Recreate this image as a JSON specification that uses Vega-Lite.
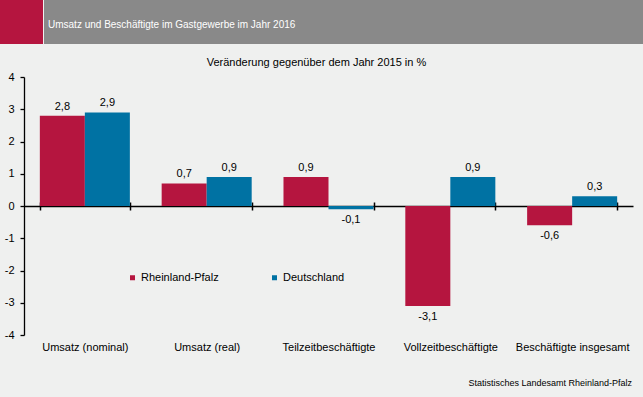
{
  "$schema": "https://vega.github.io/schema/vega-lite/v6.json",
  "padding": {"left": 0, "top": 0, "right": 0, "bottom": 9},
  "background": "#eff0ef",
  "config": {
    "font": "Liberation Sans",
    "view": {"stroke": null},
    "locale": {"number": {"decimal": ",", "thousands": ".", "grouping": [3], "currency": ["", " €"], "minus": "-"}}
  },
  "title": {"text": "Statistisches Landesamt Rheinland-Pfalz", "orient": "bottom", "anchor": "end", "fontSize": 9, "fontWeight": "normal", "color": "black", "offset": 27, "dx": -11},
  "spacing": 13,
  "vconcat": [
    {
      "hconcat": [
        {
          "width": 43, "height": 44,
          "view": {"fill": "#b5153f", "stroke": null},
          "data": {"values": [{"a": 1}]},
          "mark": {"type": "text"},
          "encoding": {"text": {"value": ""}}
        },
        {
          "width": 599, "height": 44,
          "view": {"fill": "#898989", "stroke": null},
          "title": {"text": "Umsatz und Beschäftigte im Gastgewerbe im Jahr 2016", "anchor": "start", "frame": "group", "orient": "top", "baseline": "alphabetic", "offset": -27, "dy": 11, "dx": 4, "font": "Liberation Sans", "fontSize": 10, "fontWeight": "normal", "color": "white"},
          "data": {"values": [{"a": 1}]},
          "mark": {"type": "text"},
          "encoding": {"text": {"value": ""}}
        }
      ],
      "spacing": 1
    },
    {
      "width": 633,
      "height": 258,
      "title": {"text": "Veränderung gegenüber dem Jahr 2015 in %", "fontSize": 11, "fontWeight": "normal", "color": "black", "anchor": "middle", "frame": "bounds", "offset": 3},
      "data": {"values": [
        {"kat": "Umsatz (nominal)", "reg": "Rheinland-Pfalz", "wert": 2.8},
        {"kat": "Umsatz (nominal)", "reg": "Deutschland", "wert": 2.9},
        {"kat": "Umsatz (real)", "reg": "Rheinland-Pfalz", "wert": 0.7},
        {"kat": "Umsatz (real)", "reg": "Deutschland", "wert": 0.9},
        {"kat": "Teilzeitbeschäftigte", "reg": "Rheinland-Pfalz", "wert": 0.9},
        {"kat": "Teilzeitbeschäftigte", "reg": "Deutschland", "wert": -0.1},
        {"kat": "Vollzeitbeschäftigte", "reg": "Rheinland-Pfalz", "wert": -3.1},
        {"kat": "Vollzeitbeschäftigte", "reg": "Deutschland", "wert": 0.9},
        {"kat": "Beschäftigte insgesamt", "reg": "Rheinland-Pfalz", "wert": -0.6},
        {"kat": "Beschäftigte insgesamt", "reg": "Deutschland", "wert": 0.3}
      ]},
      "encoding": {
        "xOffset": {"field": "reg", "type": "nominal", "sort": ["Rheinland-Pfalz", "Deutschland"], "scale": {"paddingInner": 0, "paddingOuter": 0}},
        "y": {"field": "wert", "type": "quantitative", "scale": {"domain": [-4, 4], "nice": false, "zero": true},
          "axis": {"title": null, "offset": -24, "minExtent": 0, "values": [-4, -3, -2, -1, 0, 1, 2, 3, 4], "format": "d", "grid": false, "domainColor": "black", "domainWidth": 1.3, "tickColor": "black", "tickWidth": 1.3, "tickSize": 4, "labelPadding": 6, "labelFontSize": 11, "labelColor": "black"}}
      },
      "resolve": {"scale": {"x": "shared"}, "axis": {"x": "independent"}},
      "layer": [
        {
          "mark": {"type": "bar"},
          "encoding": {
            "x": {"field": "kat", "type": "nominal", "sort": ["Umsatz (nominal)", "Umsatz (real)", "Teilzeitbeschäftigte", "Vollzeitbeschäftigte", "Beschäftigte insgesamt"], "scale": {"range": [24, 633], "paddingInner": 0.261, "paddingOuter": 0.13},
              "axis": {"orient": "bottom", "offset": -133, "title": null, "domain": false, "labels": false, "ticks": true, "tickBand": "extent", "tickSize": 4, "tickColor": "black", "tickWidth": 1.5}},
            "color": {"field": "reg", "type": "nominal", "sort": ["Rheinland-Pfalz", "Deutschland"], "scale": {"range": ["#b5153f", "#0072a3"]},
              "legend": {"title": null, "orient": "none", "legendX": 127, "legendY": 272, "direction": "horizontal", "symbolType": "square", "symbolSize": 25, "labelFontSize": 11, "labelColor": "black", "columnPadding": 50, "labelOffset": 3, "padding": 0}}
          }
        },
        {
          "transform": [{"filter": "datum.wert >= 0"}],
          "mark": {"type": "text", "baseline": "bottom", "dy": -4, "fontSize": 11, "color": "black"},
          "encoding": {
            "x": {"field": "kat", "type": "nominal", "sort": ["Umsatz (nominal)", "Umsatz (real)", "Teilzeitbeschäftigte", "Vollzeitbeschäftigte", "Beschäftigte insgesamt"],
              "axis": {"orient": "bottom", "offset": -129, "title": null, "domain": true, "domainColor": "black", "domainWidth": 1.3, "ticks": true, "tickBand": "extent", "tickSize": 4, "tickColor": "black", "tickWidth": 1.5, "labelPadding": 131, "labelFontSize": 11, "labelColor": "black", "labelAngle": 0}},
            "text": {"field": "wert", "type": "quantitative", "format": ".1f"}
          }
        },
        {
          "transform": [{"filter": "datum.wert < 0"}],
          "mark": {"type": "text", "baseline": "top", "dy": 5, "fontSize": 11, "color": "black"},
          "encoding": {
            "x": {"field": "kat", "type": "nominal", "sort": ["Umsatz (nominal)", "Umsatz (real)", "Teilzeitbeschäftigte", "Vollzeitbeschäftigte", "Beschäftigte insgesamt"], "axis": null},
            "text": {"field": "wert", "type": "quantitative", "format": ".1f"}
          }
        }
      ]
    }
  ]
}
